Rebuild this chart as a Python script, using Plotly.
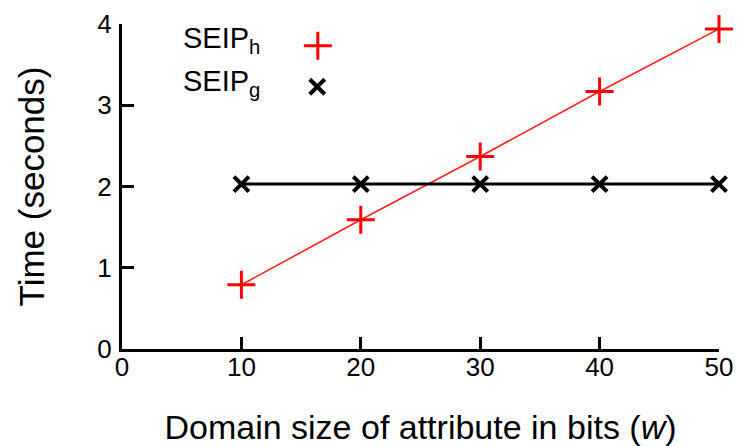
import plotly.graph_objects as go

# Data
domain_bits = [10, 20, 30, 40, 50]
seip_h = [0.79, 1.59, 2.37, 3.17, 3.94]
seip_g = [2.03, 2.03, 2.03, 2.03, 2.03]
x_ticks = [0, 10, 20, 30, 40, 50]
y_ticks = [0, 1, 2, 3, 4]

FONT = "Liberation Sans, Arial, sans-serif"

fig = go.Figure()
fig.add_trace(go.Scatter(
    x=domain_bits, y=seip_h, mode="lines+markers", name="SEIP<sub>h</sub>",
    line=dict(color="#ff2020", width=1.6),
    marker=dict(symbol="cross-thin", size=20, line=dict(color="#ff0000", width=3)),
    showlegend=False, cliponaxis=False,
))
fig.add_trace(go.Scatter(
    x=domain_bits, y=seip_g, mode="lines+markers", name="SEIP<sub>g</sub>",
    line=dict(color="#000000", width=3),
    marker=dict(symbol="x-thin", size=15, line=dict(color="#000000", width=4)),
    showlegend=False, cliponaxis=False,
))

# custom legend (text on left, sample on right) on a hidden overlay axis
fig.add_trace(go.Scatter(
    x=[0.328], y=[0.933], mode="markers", xaxis="x2", yaxis="y2",
    marker=dict(symbol="cross-thin", size=20, line=dict(color="#ff0000", width=3)),
    showlegend=False, hoverinfo="skip", cliponaxis=False,
))
fig.add_trace(go.Scatter(
    x=[0.327], y=[0.807], mode="markers", xaxis="x2", yaxis="y2",
    marker=dict(symbol="x-thin", size=15, line=dict(color="#000000", width=4)),
    showlegend=False, hoverinfo="skip", cliponaxis=False,
))
fig.add_annotation(xref="paper", yref="paper", x=0.098, y=0.950, xanchor="left", yanchor="middle",
                   text="SEIP<sub>h</sub>", showarrow=False, font=dict(family=FONT, size=29, color="black"))
fig.add_annotation(xref="paper", yref="paper", x=0.098, y=0.817, xanchor="left", yanchor="middle",
                   text="SEIP<sub>g</sub>", showarrow=False, font=dict(family=FONT, size=29, color="black"))

# page body has an 8px default margin, so the figure is offset by 8px
fig.update_layout(
    width=734, height=438,
    margin=dict(l=114, r=23, t=16, b=97, autoexpand=False),
    paper_bgcolor="white", plot_bgcolor="white",
    font=dict(family=FONT, color="black"),
    xaxis=dict(
        range=[0, 50], tickvals=x_ticks, ticktext=[str(v) for v in x_ticks],
        showline=True, linecolor="black", linewidth=3, mirror=False,
        ticks="inside", ticklen=12, tickwidth=3, tickcolor="black",
        showgrid=False, zeroline=False, tickfont=dict(size=26),
        ticklabelstandoff=-7, automargin=False,
        title=dict(text="Domain size of attribute in bits (<i>w</i>)", font=dict(size=34), standoff=40),
    ),
    yaxis=dict(
        range=[0, 4], tickvals=y_ticks, ticktext=[str(v) for v in y_ticks],
        showline=True, linecolor="black", linewidth=3, mirror=False,
        ticks="inside", ticklen=12, tickwidth=3, tickcolor="black",
        showgrid=False, zeroline=False, tickfont=dict(size=26),
        ticklabelstandoff=2, automargin=False,
        title=dict(text="Time (seconds)", font=dict(size=35), standoff=43),
    ),
    xaxis2=dict(range=[0, 1], overlaying="x", visible=False, fixedrange=True),
    yaxis2=dict(range=[0, 1], overlaying="y", visible=False, fixedrange=True),
)

fig.write_html("out.html")
